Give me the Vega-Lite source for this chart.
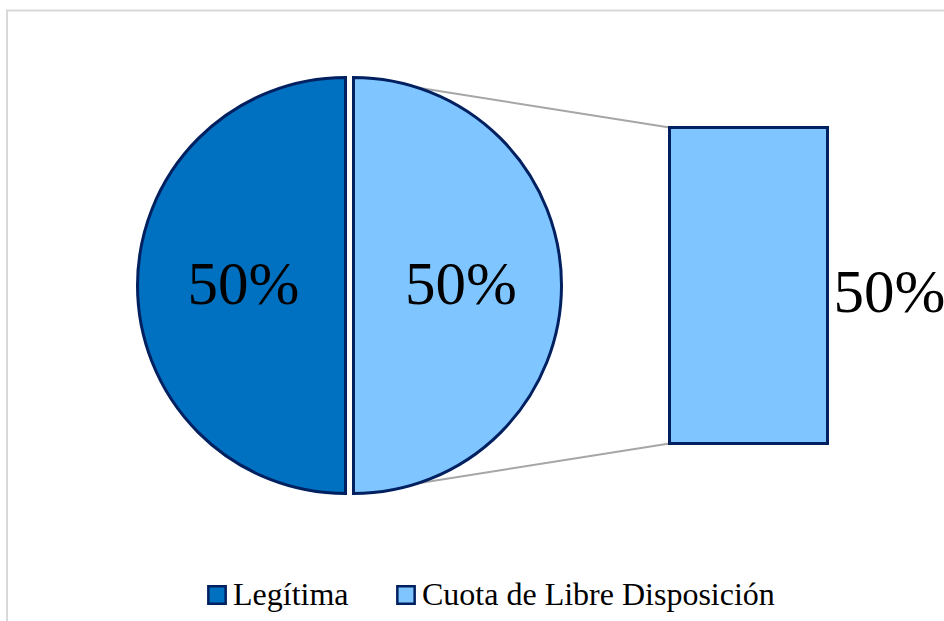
{
  "$schema": "https://vega.github.io/schema/vega-lite/v6.json",
  "width": 944,
  "height": 621,
  "padding": 0,
  "config": {
    "font": "Liberation Serif",
    "view": {"stroke": null},
    "text": {"font": "Liberation Serif"},
    "legend": {
      "orient": "none",
      "legendX": 201,
      "legendY": 579,
      "direction": "horizontal",
      "title": null,
      "symbolType": "square",
      "symbolSize": 300,
      "symbolStrokeColor": "#002060",
      "symbolStrokeWidth": 2.5,
      "labelFont": "Liberation Serif",
      "labelFontSize": 32,
      "labelColor": "#000000",
      "labelOffset": 0,
      "columnPadding": 41,
      "labelLimit": 600,
      "padding": 0
    }
  },
  "data": {
    "values": [
      {"cat": "Legítima", "share": 0.5},
      {"cat": "Cuota de Libre Disposición", "share": 0.5}
    ]
  },
  "transform": [
    {"stack": "share", "groupby": [], "sort": [{"field": "cat", "order": "ascending"}], "as": ["s0", "s1"]}
  ],
  "layer": [
    {
      "transform": [{"filter": "datum.cat === 'Cuota de Libre Disposición'"}],
      "mark": {"type": "rule", "color": "#d9d9d9", "strokeWidth": 2},
      "encoding": {
        "x": {"datum": 7, "type": "quantitative", "axis": null, "scale": {"domain": [0, 944], "nice": false, "zero": false}},
        "x2": {"datum": 944},
        "y": {"datum": 610.5, "type": "quantitative", "axis": null, "scale": {"domain": [0, 621], "nice": false, "zero": false}}
      }
    },
    {
      "transform": [{"filter": "datum.cat === 'Cuota de Libre Disposición'"}],
      "mark": {"type": "rule", "color": "#d9d9d9", "strokeWidth": 2},
      "encoding": {
        "x": {"datum": 7, "type": "quantitative", "axis": null, "scale": {"domain": [0, 944], "nice": false, "zero": false}},
        "y": {"datum": 0, "type": "quantitative", "axis": null, "scale": {"domain": [0, 621], "nice": false, "zero": false}},
        "y2": {"datum": 611.5}
      }
    },
    {
      "transform": [{"filter": "datum.cat === 'Cuota de Libre Disposición'"}],
      "mark": {"type": "rule", "color": "#a6a6a6", "strokeWidth": 2},
      "encoding": {
        "x": {"datum": 353.5, "type": "quantitative", "axis": null, "scale": {"domain": [0, 944], "nice": false, "zero": false}},
        "x2": {"datum": 669.5},
        "y": {"datum": 543.5, "type": "quantitative", "axis": null, "scale": {"domain": [0, 621], "nice": false, "zero": false}},
        "y2": {"datum": 493.5}
      }
    },
    {
      "transform": [{"filter": "datum.cat === 'Cuota de Libre Disposición'"}],
      "mark": {"type": "rule", "color": "#a6a6a6", "strokeWidth": 2},
      "encoding": {
        "x": {"datum": 353.5, "type": "quantitative", "axis": null, "scale": {"domain": [0, 944], "nice": false, "zero": false}},
        "x2": {"datum": 669.5},
        "y": {"datum": 127.5, "type": "quantitative", "axis": null, "scale": {"domain": [0, 621], "nice": false, "zero": false}},
        "y2": {"datum": 177.5}
      }
    },
    {
      "transform": [{"filter": "datum.cat === 'Legítima'"}],
      "mark": {"type": "arc", "radius": 208, "stroke": "#002060", "strokeWidth": 3},
      "encoding": {
        "x": {"datum": 345.5, "type": "quantitative", "axis": null, "scale": {"domain": [0, 944], "nice": false, "zero": false}},
        "y": {"datum": 335.5, "type": "quantitative", "axis": null, "scale": {"domain": [0, 621], "nice": false, "zero": false}},
        "theta": {"field": "s0", "type": "quantitative", "stack": null, "scale": {"domain": [0, 1], "range": [0, 6.283185307179586]}},
        "theta2": {"field": "s1"},
        "color": {"field": "cat", "type": "nominal", "scale": {"domain": ["Legítima", "Cuota de Libre Disposición"], "range": ["#0070C0", "#7FC5FF"]}}
      }
    },
    {
      "transform": [{"filter": "datum.cat === 'Cuota de Libre Disposición'"}],
      "mark": {"type": "arc", "radius": 208, "stroke": "#002060", "strokeWidth": 3},
      "encoding": {
        "x": {"datum": 353.5, "type": "quantitative", "axis": null, "scale": {"domain": [0, 944], "nice": false, "zero": false}},
        "y": {"datum": 335.5, "type": "quantitative", "axis": null, "scale": {"domain": [0, 621], "nice": false, "zero": false}},
        "theta": {"field": "s0", "type": "quantitative", "stack": null, "scale": {"domain": [0, 1], "range": [0, 6.283185307179586]}},
        "theta2": {"field": "s1"},
        "color": {"field": "cat", "type": "nominal", "scale": {"domain": ["Legítima", "Cuota de Libre Disposición"], "range": ["#0070C0", "#7FC5FF"]}}
      }
    },
    {
      "transform": [{"filter": "datum.cat === 'Cuota de Libre Disposición'"}],
      "mark": {"type": "rect", "stroke": "#002060", "strokeWidth": 3},
      "encoding": {
        "x": {"datum": 669.5, "type": "quantitative", "axis": null, "scale": {"domain": [0, 944], "nice": false, "zero": false}},
        "x2": {"datum": 827.5},
        "y": {"datum": 177.5, "type": "quantitative", "axis": null, "scale": {"domain": [0, 621], "nice": false, "zero": false}},
        "y2": {"datum": 493.5},
        "color": {"field": "cat", "type": "nominal", "scale": {"domain": ["Legítima", "Cuota de Libre Disposición"], "range": ["#0070C0", "#7FC5FF"]}}
      }
    },
    {
      "transform": [{"filter": "datum.cat === 'Legítima'"}],
      "mark": {"type": "text", "font": "Liberation Serif", "fontSize": 61, "align": "center", "baseline": "alphabetic"},
      "encoding": {
        "x": {"datum": 243.5, "type": "quantitative", "axis": null, "scale": {"domain": [0, 944], "nice": false, "zero": false}},
        "y": {"datum": 317, "type": "quantitative", "axis": null, "scale": {"domain": [0, 621], "nice": false, "zero": false}},
        "text": {"field": "share", "type": "quantitative", "format": ".0%"}
      }
    },
    {
      "transform": [{"filter": "datum.cat === 'Cuota de Libre Disposición'"}],
      "mark": {"type": "text", "font": "Liberation Serif", "fontSize": 61, "align": "center", "baseline": "alphabetic"},
      "encoding": {
        "x": {"datum": 461, "type": "quantitative", "axis": null, "scale": {"domain": [0, 944], "nice": false, "zero": false}},
        "y": {"datum": 317, "type": "quantitative", "axis": null, "scale": {"domain": [0, 621], "nice": false, "zero": false}},
        "text": {"field": "share", "type": "quantitative", "format": ".0%"}
      }
    },
    {
      "transform": [{"filter": "datum.cat === 'Cuota de Libre Disposición'"}],
      "mark": {"type": "text", "font": "Liberation Serif", "fontSize": 61, "align": "center", "baseline": "alphabetic"},
      "encoding": {
        "x": {"datum": 889.5, "type": "quantitative", "axis": null, "scale": {"domain": [0, 944], "nice": false, "zero": false}},
        "y": {"datum": 309.5, "type": "quantitative", "axis": null, "scale": {"domain": [0, 621], "nice": false, "zero": false}},
        "text": {"field": "share", "type": "quantitative", "format": ".0%"}
      }
    }
  ]
}
